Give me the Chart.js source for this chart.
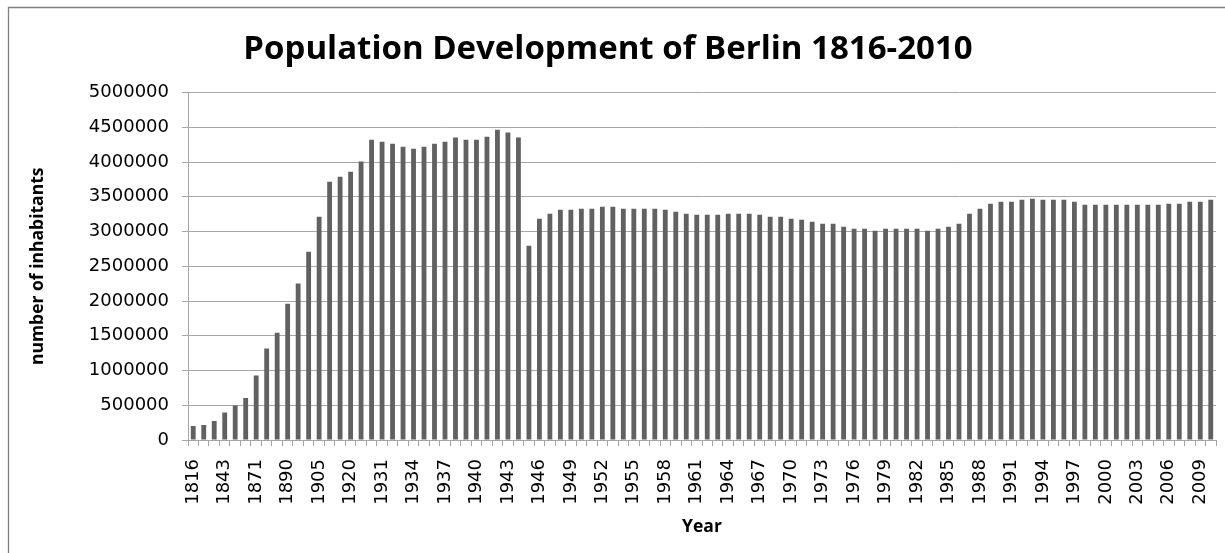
<!DOCTYPE html>
<html>
<head>
<meta charset="utf-8">
<script src="https://cdn.jsdelivr.net/npm/chart.js@4/dist/chart.umd.min.js"></script>
<style>
html,body{margin:0;padding:0;background:#fff;}
#wrap{position:relative;width:1225px;height:553px;overflow:hidden;}
</style>
</head>
<body>
<div id="wrap"><canvas id="c" width="1225" height="553"></canvas></div>
<script>
const years = [
  '1816','1825','1834','1843','1852','1861','1871','1875','1880','1890',
  '1895','1900','1905','1910','1915','1920','1925','1930',
  '1931','1932','1933','1934','1935','1936','1937','1938','1939','1940',
  '1941','1942','1943','1944','1945','1946','1947','1948','1949','1950',
  '1951','1952','1953','1954','1955','1956','1957','1958','1959','1960',
  '1961','1962','1963','1964','1965','1966','1967','1968','1969','1970',
  '1971','1972','1973','1974','1975','1976','1977','1978','1979','1980',
  '1981','1982','1983','1984','1985','1986','1987','1988','1989','1990',
  '1991','1992','1993','1994','1995','1996','1997','1998','1999','2000',
  '2001','2002','2003','2004','2005','2006','2007','2008','2009','2010'
];

const population = [
  200000, 216000, 275000, 394000, 495000, 605000, 927000, 1316000, 1542000, 1960000,
  2252000, 2709000, 3213000, 3718000, 3790000, 3862000, 4010000, 4323000,
  4294000, 4265000, 4222000, 4193000, 4222000, 4265000, 4294000, 4352000, 4323000, 4323000,
  4366000, 4467000, 4424000, 4352000, 2795000, 3184000, 3256000, 3314000, 3314000, 3329000,
  3329000, 3357000, 3357000, 3329000, 3329000, 3329000, 3329000, 3314000, 3285000, 3256000,
  3242000, 3242000, 3242000, 3256000, 3256000, 3256000, 3242000, 3213000, 3213000, 3184000,
  3170000, 3141000, 3112000, 3112000, 3069000, 3040000, 3040000, 3012000, 3040000, 3040000,
  3040000, 3040000, 3012000, 3040000, 3069000, 3112000, 3256000, 3329000, 3401000, 3429000,
  3429000, 3458000, 3473000, 3458000, 3458000, 3458000, 3429000, 3386000, 3386000, 3386000,
  3386000, 3386000, 3386000, 3386000, 3386000, 3401000, 3401000, 3429000, 3429000, 3458000
];

const yMin = 0;
const yMax = 5000000;
const yStep = 500000;

const titleText = 'Population Development of Berlin 1816-2010';
const xTitle = 'Year';
const yTitle = 'number of inhabitants';

const gridColor = '#a6a6a6';

const frame = {
  id: 'frame',
  beforeDraw(chart) {
    const ctx = chart.ctx;
    ctx.save();
    ctx.fillStyle = '#ffffff';
    ctx.fillRect(0, 0, chart.width, chart.height);
    ctx.strokeStyle = '#808080';
    ctx.lineWidth = 1.3;
    ctx.beginPath();
    ctx.moveTo(8.5, chart.height + 5);
    ctx.lineTo(8.5, 7.5);
    ctx.lineTo(chart.width + 5, 7.5);
    ctx.stroke();
    ctx.restore();
  }
};

new Chart(document.getElementById('c'), {
  type: 'bar',
  data: {
    labels: years,
    datasets: [{
      label: 'population',
      data: population,
      backgroundColor: '#616161',
      borderWidth: 0,
      barPercentage: 0.46,
      categoryPercentage: 1.0
    }]
  },
  options: {
    responsive: false,
    devicePixelRatio: 1,
    animation: false,
    layout: { padding: { left: 0, right: 9, top: 0, bottom: 0 } },
    plugins: {
      legend: { display: false },
      tooltip: { enabled: false },
      title: {
        display: true,
        text: titleText,
        color: '#000',
        font: { family: 'Open Sans', weight: 'bold', size: 33 },
        padding: { top: 30, bottom: 23 }
      }
    },
    scales: {
      x: {
        offset: true,
        grid: {
          display: true,
          offset: true,
          drawOnChartArea: false,
          drawTicks: true,
          tickLength: 6,
          color: gridColor
        },
        border: { display: true, color: gridColor },
        ticks: {
          autoSkip: false,
          minRotation: 90,
          maxRotation: 90,
          padding: 13,
          color: '#000',
          font: { family: 'DejaVu Sans', size: 18 },
          callback: function(v, i) { return i % 3 === 0 ? years[i] : ''; }
        },
        title: {
          display: true,
          text: xTitle,
          color: '#000',
          font: { family: 'Open Sans', weight: 'bold', size: 17.5 },
          padding: { top: 0, bottom: 15 }
        },
        afterFit: function(s) { s.height = 113; s.paddingLeft = 0; s.paddingRight = 0; }
      },
      y: {
        min: yMin,
        max: yMax,
        grid: {
          color: gridColor,
          drawTicks: true,
          tickLength: 6
        },
        border: { display: true, color: gridColor },
        ticks: {
          stepSize: yStep,
          padding: 13,
          color: '#000',
          font: { family: 'DejaVu Sans', size: 18 },
          callback: function(v) { return String(v); }
        },
        title: {
          display: true,
          text: yTitle,
          color: '#000',
          font: { family: 'Open Sans', weight: 'bold', size: 17.5 },
          padding: { top: 28, bottom: 0 }
        },
        afterFit: function(s) { s.width = 188; }
      }
    }
  },
  plugins: [frame]
});
</script>
</body>
</html>
